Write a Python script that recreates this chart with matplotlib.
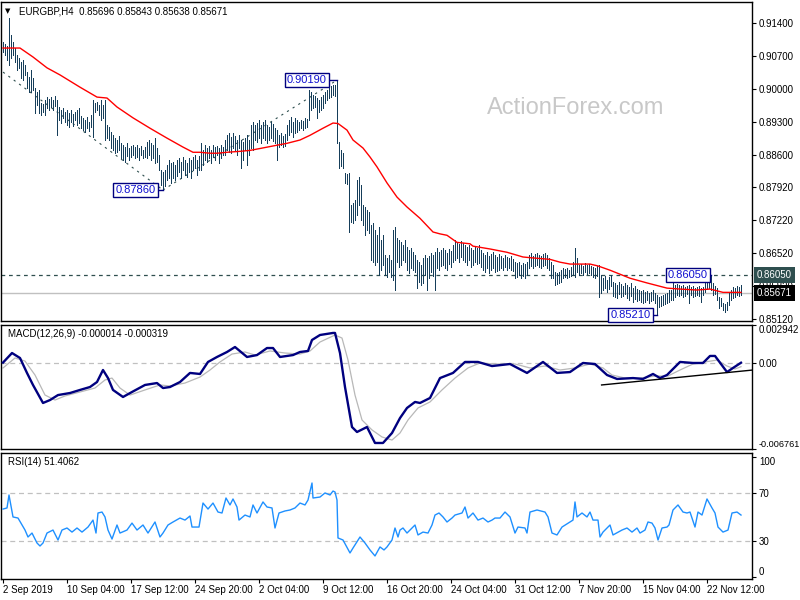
import numpy as np
import matplotlib
matplotlib.use("Agg")
import matplotlib.pyplot as plt
from matplotlib.transforms import blended_transform_factory

# ---------------- data ----------------
highs = [
    0.9100, 0.9096, 0.9091, 0.9151, 0.9115, 0.9100, 0.9087, 0.9072, 0.9066, 0.9057,
    0.9062, 0.9051, 0.9036, 0.9026, 0.9040, 0.9023, 0.9002, 0.8994, 0.8998, 0.8970,
    0.8968, 0.8977, 0.8983, 0.8979, 0.8983, 0.8977, 0.8985, 0.8977, 0.8962, 0.8956,
    0.8960, 0.8951, 0.8956, 0.8949, 0.8956, 0.8947, 0.8951, 0.8956, 0.8960, 0.8943,
    0.8939, 0.8934, 0.8941, 0.8930, 0.8945, 0.8977, 0.8970, 0.8973, 0.8966, 0.8977,
    0.8966, 0.8977, 0.8924, 0.8920, 0.8909, 0.8903, 0.8896, 0.8892, 0.8900, 0.8886,
    0.8881, 0.8877, 0.8886, 0.8875, 0.8879, 0.8881, 0.8877, 0.8881, 0.8875, 0.8879,
    0.8871, 0.8877, 0.8888, 0.8892, 0.8886, 0.8881, 0.8896, 0.8875, 0.8860, 0.8828,
    0.8824, 0.8828, 0.8839, 0.8849, 0.8843, 0.8845, 0.8839, 0.8849, 0.8854, 0.8845,
    0.8856, 0.8849, 0.8843, 0.8854, 0.8849, 0.8856, 0.8860, 0.8849, 0.8858, 0.8886,
    0.8871, 0.8881, 0.8875, 0.8879, 0.8871, 0.8881, 0.8877, 0.8879, 0.8875, 0.8881,
    0.8877, 0.8892, 0.8903, 0.8907, 0.8898, 0.8907, 0.8900, 0.8892, 0.8903, 0.8892,
    0.8888, 0.8896, 0.8903, 0.8892, 0.8924, 0.8930, 0.8924, 0.8928, 0.8934, 0.8924,
    0.8930, 0.8934, 0.8924, 0.8920, 0.8930, 0.8926, 0.8917, 0.8913, 0.8903, 0.8907,
    0.8900, 0.8905, 0.8924, 0.8934, 0.8941, 0.8930, 0.8939, 0.8934, 0.8930, 0.8934,
    0.8932, 0.8939, 0.8937, 0.8998, 0.8994, 0.8987, 0.8985, 0.8981, 0.8977, 0.8983,
    0.8987, 0.8994, 0.8998, 0.9002, 0.9007, 0.9009, 0.9009, 0.9019, 0.8888, 0.8871,
    0.8864, 0.8822, 0.8820, 0.8822, 0.8754, 0.8759, 0.8765, 0.8807, 0.8814, 0.8797,
    0.8754, 0.8750, 0.8744, 0.8739, 0.8712, 0.8716, 0.8701, 0.8691, 0.8707, 0.8680,
    0.8691, 0.8648, 0.8642, 0.8648, 0.8638, 0.8701, 0.8707, 0.8684, 0.8680, 0.8676,
    0.8669, 0.8680, 0.8665, 0.8659, 0.8663, 0.8655, 0.8648, 0.8638, 0.8633, 0.8627,
    0.8642, 0.8648, 0.8642, 0.8646, 0.8653, 0.8648, 0.8655, 0.8663, 0.8655, 0.8659,
    0.8663, 0.8659, 0.8653, 0.8661, 0.8657, 0.8669, 0.8680, 0.8676, 0.8672, 0.8678,
    0.8674, 0.8669, 0.8665, 0.8669, 0.8663, 0.8659, 0.8667, 0.8663, 0.8669, 0.8659,
    0.8653, 0.8648, 0.8655, 0.8646, 0.8650, 0.8655, 0.8648, 0.8644, 0.8650, 0.8646,
    0.8642, 0.8648, 0.8644, 0.8642, 0.8646, 0.8640, 0.8633, 0.8631, 0.8633, 0.8627,
    0.8631, 0.8629, 0.8633, 0.8648, 0.8653, 0.8646, 0.8650, 0.8653, 0.8648, 0.8646,
    0.8650, 0.8653, 0.8648, 0.8642, 0.8633, 0.8627, 0.8612, 0.8610, 0.8612, 0.8616,
    0.8621, 0.8618, 0.8621, 0.8616, 0.8623, 0.8633, 0.8663, 0.8642, 0.8627, 0.8629,
    0.8625, 0.8631, 0.8627, 0.8629, 0.8625, 0.8623, 0.8621, 0.8625, 0.8627, 0.8606,
    0.8599, 0.8604, 0.8595, 0.8602, 0.8606, 0.8591, 0.8589, 0.8585, 0.8591, 0.8587,
    0.8582, 0.8589, 0.8585, 0.8580, 0.8589, 0.8578, 0.8582, 0.8576, 0.8574, 0.8572,
    0.8574, 0.8570, 0.8572, 0.8568, 0.8570, 0.8574, 0.8568, 0.8563, 0.8559, 0.8561,
    0.8563, 0.8566, 0.8568, 0.8574, 0.8574, 0.8589, 0.8585, 0.8587, 0.8585, 0.8582,
    0.8585, 0.8580, 0.8582, 0.8585, 0.8580, 0.8582, 0.8578, 0.8580, 0.8582, 0.8578,
    0.8580, 0.8589, 0.8602, 0.8599, 0.8605, 0.8589, 0.8582, 0.8578, 0.8559, 0.8557,
    0.8547, 0.8544, 0.8549, 0.8570, 0.8574, 0.8580, 0.8578, 0.8582, 0.8580, 0.8584,
]
lows = [
    0.9079, 0.9072, 0.9062, 0.9051, 0.9066, 0.9072, 0.9057, 0.9040, 0.9045, 0.9023,
    0.9019, 0.9030, 0.9002, 0.8994, 0.8994, 0.8998, 0.8949, 0.8966, 0.8949, 0.8945,
    0.8951, 0.8945, 0.8960, 0.8956, 0.8962, 0.8956, 0.8964, 0.8903, 0.8934, 0.8928,
    0.8939, 0.8930, 0.8924, 0.8920, 0.8930, 0.8922, 0.8934, 0.8924, 0.8928, 0.8917,
    0.8913, 0.8909, 0.8917, 0.8911, 0.8920, 0.8898, 0.8951, 0.8956, 0.8945, 0.8934,
    0.8939, 0.8892, 0.8896, 0.8892, 0.8875, 0.8871, 0.8864, 0.8867, 0.8871, 0.8854,
    0.8849, 0.8845, 0.8858, 0.8849, 0.8856, 0.8860, 0.8854, 0.8856, 0.8849, 0.8860,
    0.8854, 0.8856, 0.8854, 0.8860, 0.8849, 0.8854, 0.8843, 0.8845, 0.8828, 0.8797,
    0.8786, 0.8795, 0.8807, 0.8811, 0.8801, 0.8811, 0.8807, 0.8816, 0.8824, 0.8811,
    0.8828, 0.8818, 0.8814, 0.8824, 0.8811, 0.8828, 0.8833, 0.8818, 0.8828, 0.8828,
    0.8839, 0.8849, 0.8845, 0.8854, 0.8843, 0.8856, 0.8849, 0.8860, 0.8843, 0.8854,
    0.8860, 0.8860, 0.8871, 0.8867, 0.8864, 0.8875, 0.8871, 0.8860, 0.8875, 0.8833,
    0.8849, 0.8871, 0.8839, 0.8860, 0.8875, 0.8871, 0.8892, 0.8888, 0.8896, 0.8886,
    0.8896, 0.8892, 0.8886, 0.8892, 0.8896, 0.8890, 0.8886, 0.8849, 0.8877, 0.8881,
    0.8877, 0.8879, 0.8892, 0.8903, 0.8909, 0.8898, 0.8907, 0.8909, 0.8913, 0.8917,
    0.8913, 0.8917, 0.8920, 0.8934, 0.8956, 0.8960, 0.8962, 0.8939, 0.8951, 0.8956,
    0.8960, 0.8970, 0.8977, 0.8981, 0.8983, 0.8987, 0.8985, 0.8886, 0.8833, 0.8837,
    0.8833, 0.8801, 0.8799, 0.8697, 0.8718, 0.8716, 0.8722, 0.8733, 0.8754, 0.8722,
    0.8712, 0.8691, 0.8701, 0.8695, 0.8638, 0.8633, 0.8627, 0.8633, 0.8606, 0.8616,
    0.8627, 0.8606, 0.8602, 0.8612, 0.8602, 0.8595, 0.8574, 0.8633, 0.8623, 0.8627,
    0.8638, 0.8633, 0.8616, 0.8610, 0.8621, 0.8616, 0.8612, 0.8578, 0.8591, 0.8585,
    0.8589, 0.8606, 0.8574, 0.8599, 0.8612, 0.8604, 0.8574, 0.8621, 0.8616, 0.8625,
    0.8627, 0.8621, 0.8616, 0.8629, 0.8623, 0.8633, 0.8638, 0.8642, 0.8633, 0.8644,
    0.8638, 0.8633, 0.8627, 0.8638, 0.8623, 0.8627, 0.8633, 0.8629, 0.8631, 0.8623,
    0.8616, 0.8612, 0.8621, 0.8610, 0.8616, 0.8621, 0.8612, 0.8614, 0.8616, 0.8621,
    0.8616, 0.8623, 0.8616, 0.8621, 0.8616, 0.8614, 0.8599, 0.8602, 0.8606, 0.8599,
    0.8604, 0.8599, 0.8606, 0.8621, 0.8625, 0.8621, 0.8625, 0.8627, 0.8623, 0.8621,
    0.8625, 0.8627, 0.8621, 0.8616, 0.8599, 0.8599, 0.8585, 0.8587, 0.8589, 0.8591,
    0.8599, 0.8602, 0.8599, 0.8602, 0.8604, 0.8606, 0.8602, 0.8612, 0.8606, 0.8610,
    0.8606, 0.8612, 0.8608, 0.8610, 0.8606, 0.8602, 0.8599, 0.8604, 0.8559, 0.8568,
    0.8574, 0.8578, 0.8570, 0.8576, 0.8582, 0.8561, 0.8559, 0.8557, 0.8566, 0.8559,
    0.8561, 0.8566, 0.8557, 0.8553, 0.8561, 0.8549, 0.8555, 0.8551, 0.8553, 0.8549,
    0.8547, 0.8549, 0.8553, 0.8547, 0.8551, 0.8553, 0.8547, 0.8521, 0.8538, 0.8540,
    0.8542, 0.8544, 0.8547, 0.8549, 0.8553, 0.8553, 0.8559, 0.8563, 0.8561, 0.8563,
    0.8559, 0.8561, 0.8566, 0.8547, 0.8563, 0.8559, 0.8561, 0.8563, 0.8561, 0.8549,
    0.8563, 0.8570, 0.8576, 0.8578, 0.8574, 0.8563, 0.8566, 0.8553, 0.8536, 0.8540,
    0.8532, 0.8527, 0.8532, 0.8542, 0.8553, 0.8557, 0.8559, 0.8563, 0.8561, 0.8564,
]

ma_idx = [0, 8.5, 15, 22, 28.5, 38.5, 47, 52, 57, 65, 73.5, 82, 90, 95, 98.5, 103.5,
          107, 112, 118.5, 123.5, 128.5, 137, 142, 148.5, 153.5, 160, 165, 167.5, 172,
          175, 180, 183.5, 187, 192, 197, 202, 208.5, 215, 218.5, 222, 227, 233.5, 235,
          243.5, 252, 260, 265, 273.5, 278.5, 283.5, 293.5, 297.5, 303.5, 313.5, 322,
          332, 338.5, 347, 353.5, 360, 369]
ma_val = [0.9087, 0.9087, 0.9068, 0.9045, 0.9030, 0.9004, 0.8983, 0.8981, 0.8962, 0.8939,
          0.8917, 0.8896, 0.8877, 0.8866, 0.8866, 0.8864, 0.8864, 0.8866, 0.8868, 0.8870,
          0.8874, 0.8881, 0.8885, 0.8892, 0.8902, 0.8917, 0.8928, 0.8927, 0.8913, 0.8892,
          0.8875, 0.8856, 0.8835, 0.8801, 0.8771, 0.8750, 0.8726, 0.8697, 0.8693, 0.8690,
          0.8675, 0.8672, 0.8667, 0.8661, 0.8654, 0.8644, 0.8642, 0.8639, 0.8633, 0.8629,
          0.8629, 0.8625, 0.8616, 0.8599, 0.8589, 0.8578, 0.8576, 0.8574, 0.8576, 0.8569,
          0.8569]

macd_idx = [0, 4.5, 8.5, 12, 15, 20, 23.5, 27.5, 33.5, 38.5, 43.5, 47, 50, 52.5, 55, 60,
            64.5, 71, 77, 80, 83.5, 88.5, 93.5, 98.5, 102.5, 107, 112, 116, 122, 127, 132,
            135, 138.5, 145, 148.5, 152.5, 154.5, 158.5, 165, 166, 168.5, 171, 174.5, 177,
            182, 186, 190, 194.5, 198.5, 202, 206, 208.5, 213.5, 218.5, 225, 231, 237.5,
            244.5, 253.5, 262, 270, 277, 283.5, 290, 296, 302, 307, 315, 320, 325, 328.5,
            332, 338.5, 345, 350, 353.5, 356, 362, 365, 369]
macd_val = [0.00, 0.75, 0.36, -0.81, -1.75, -3.16, -2.93, -2.54, -2.38, -2.14, -1.91,
            -1.52, -0.58, -1.21, -2.14, -2.69, -2.30, -1.75, -1.60, -1.99, -1.91, -1.52,
            -0.81, -0.89, 0.05, 0.44, 0.83, 1.22, 0.44, 0.59, 1.14, 1.14, 0.44, 0.59,
            0.83, 0.91, 1.77, 2.16, 2.32, 2.32, 0.75, -1.91, -5.04, -5.43, -5.04, -6.29,
            -6.29, -5.51, -4.34, -3.55, -3.08, -3.16, -2.77, -1.21, -0.81, 0.05, 0.05,
            -0.27, -0.11, -0.81, 0.05, -0.81, -0.74, -0.03, -0.11, -0.97, -1.28, -1.21,
            -1.28, -0.89, -1.21, -0.97, 0.05, -0.03, -0.03, 0.52, 0.52, -0.74, -0.42,
            -0.01]
sig_idx = [0, 6, 11, 16, 21, 26, 31, 38.5, 46, 51, 54.5, 58.5, 63.5, 71, 78.5, 83.5,
           91, 98.5, 103.5, 108.5, 114.5, 121, 126, 133.5, 141, 148.5, 153.5, 158.5, 166,
           169.5, 172.5, 176, 179.5, 184.5, 189.5, 194.5, 198.5, 202.5, 207.5, 213.5,
           219.5, 226, 232.5, 238.5, 246, 256, 263.5, 271, 278.5, 286, 293.5, 300, 304.5,
           311, 318.5, 326, 332.5, 338.5, 345, 351, 357, 362, 366, 369]
sig_val = [-0.42, 0.36, 0.12, -0.97, -2.54, -2.93, -2.61, -2.30, -1.99, -1.36, -1.21,
           -1.99, -2.54, -2.14, -1.75, -1.83, -1.60, -1.13, -0.58, 0.05, 0.67, 0.83,
           0.59, 0.91, 0.75, 0.67, 0.91, 1.61, 2.16, 1.92, 0.20, -2.54, -4.49, -5.27,
           -5.82, -6.06, -5.51, -4.49, -3.55, -3.08, -2.14, -1.21, -0.42, -0.03, -0.11,
           -0.11, -0.42, -0.27, -0.58, -0.42, -0.11, -0.42, -0.97, -1.21, -1.21, -1.05,
           -1.05, -0.58, -0.11, 0.05, 0.20, -0.27, -0.50, -0.32]
macd_trend_idx = [299.3, 375]
macd_trend_val = [-1.75, -0.58]

rsi_idx = [0, 2, 3, 5, 7.5, 11, 12.5, 14.5, 17, 18.5, 20, 22, 25, 27.5, 29.5, 32, 34.5,
           37, 39.5, 42.5, 45, 46.5, 47.5, 49.5, 51, 52.5, 54.5, 57, 58.5, 62, 64.5, 67,
           70, 72.5, 76, 78.5, 80, 82.5, 85, 88.5, 91, 93.5, 94.5, 98, 100, 102.5, 105,
           107.5, 109.5, 111.5, 113.5, 115, 117, 118, 121, 123.5, 125, 127, 130, 132,
           134.5, 136, 138, 141, 143.5, 146, 148.5, 151, 152.5, 154.5, 155, 158.5, 161,
           163.5, 165, 166, 167, 167.5, 170, 173.5, 175, 178.5, 181, 183.5, 186, 188.5,
           190.5, 192, 194.5, 196, 197.5, 198.5, 200, 202, 204.5, 206, 207.5, 210, 212.5,
           214.5, 216, 218, 220, 222, 224.5, 226, 229.5, 231, 232.5, 235, 237.5, 240,
           242.5, 244.5, 246, 248.5, 251, 253.5, 256, 257.5, 261, 262, 263.5, 267, 271,
           272.5, 274.5, 277, 279.5, 283.5, 285, 286, 287, 289.5, 292, 293.5, 295, 297.5,
           298.5, 300, 303.5, 305, 309.5, 312, 314.5, 317, 318.5, 321, 322.5, 324.5, 326,
           327.5, 329.5, 332, 333, 335, 337.5, 340, 342, 343.5, 346, 347.5, 349.5, 352,
           354.5, 356, 357.5, 360, 362.5, 364.5, 367, 369]
rsi_val = [56.4, 57.3, 68.1, 49.8, 48.9, 38.9, 33.1, 36.4, 28.1, 25.6, 28.1, 36.4, 38.9,
           30.6, 38.9, 40.6, 37.2, 40.6, 37.2, 41.4, 47.2, 36.4, 53.1, 53.9, 49.8, 38.9,
           31.4, 43.1, 36.4, 38.9, 44.7, 38.9, 43.1, 36.4, 45.6, 33.1, 36.4, 43.1, 45.6,
           48.9, 47.2, 50.6, 41.4, 41.4, 61.4, 56.4, 61.4, 53.9, 53.1, 65.6, 59.8, 64.8,
           58.1, 47.2, 51.4, 49.8, 59.8, 53.1, 62.3, 58.1, 57.3, 40.6, 53.1, 54.8, 55.6,
           57.3, 61.4, 59.8, 63.9, 78.1, 65.6, 66.4, 69.8, 68.1, 71.4, 70.6, 63.9, 32.3,
           30.6, 19.8, 23.9, 33.1, 28.1, 22.3, 17.3, 24.8, 22.3, 24.8, 30.6, 40.6, 33.1,
           38.9, 40.6, 36.4, 40.6, 43.1, 34.8, 37.2, 36.4, 43.1, 51.4, 53.1, 49.8, 45.6,
           48.9, 51.4, 53.1, 58.1, 48.9, 53.1, 47.2, 48.9, 45.6, 47.2, 48.9, 48.9, 53.9,
           49.8, 36.4, 41.4, 40.6, 36.4, 53.9, 55.6, 53.9, 49.8, 36.4, 34.8, 41.4, 45.6,
           47.2, 62.3, 49.8, 53.1, 49.8, 53.9, 47.2, 47.2, 33.1, 37.2, 43.1, 34.8, 38.9,
           40.6, 37.2, 40.6, 36.4, 38.9, 45.6, 44.7, 40.6, 30.6, 40.6, 41.4, 43.1, 55.6,
           59.8, 53.9, 53.1, 53.9, 41.4, 53.9, 51.4, 64.8, 57.3, 53.1, 41.4, 37.2, 38.9,
           53.1, 53.9, 51.4]

x_tick_idx = [0, 32, 64, 96, 128, 160, 192, 224, 256, 288, 320, 352]
x_tick_labels = ["2 Sep 2019", "10 Sep 04:00", "17 Sep 12:00", "24 Sep 20:00",
                 "2 Oct 04:00", "9 Oct 12:00", "16 Oct 20:00", "24 Oct 04:00",
                 "31 Oct 12:00", "7 Nov 20:00", "15 Nov 04:00", "22 Nov 12:00"]
price_ticks = [0.91400, 0.90700, 0.90000, 0.89300, 0.88600, 0.87920, 0.87220,
               0.86520, 0.85820, 0.85120]
macd_ticks = [0.002942, 0.0, -0.006761]
rsi_ticks = [100, 70, 30, 0]

swing_low_1, swing_high_1 = 0.87860, 0.90190
swing_high_2, swing_low_2 = 0.86050, 0.85210
last_close = 0.85671
trend1_idx, trend1_val = [0, 80], [0.9036, 0.8786]
trend2_idx, trend2_val = [80, 167], [0.8786, 0.9019]

# ---------------- styles ----------------
BAR = "#163e5a"
NAVY = "#00007f"
FONT = ["Liberation Sans", "DejaVu Sans"]
FS = 7
plt.rcParams["font.family"] = FONT

W, H = 800, 600
fig = plt.figure(figsize=(8, 6), dpi=100)
fig.patch.set_facecolor("white")

def ax_at(top, bottom):
    return fig.add_axes([1 / W, 1 - bottom / H, 751 / W, (bottom - top) / H])

axp = ax_at(2, 321)
axm = ax_at(325, 449)
axr = ax_at(453, 579)

xlim = (-1, 374.5)
for a in (axp, axm, axr):
    a.set_xlim(*xlim)
    a.yaxis.tick_right()
    a.tick_params(axis="y", direction="out", length=3, width=0.8, pad=2,
                  labelsize=FS, colors="black")
    for s in a.spines.values():
        s.set_linewidth(1.0)
        s.set_color("black")
    a.set_facecolor("white")
for a in (axp, axm):
    a.set_xticks([])

# ---------------- price panel ----------------
idx = np.arange(len(highs))
axp.set_ylim(0.85083, 0.91846)
axp.vlines(idx, lows, highs, color=BAR, lw=0.72, antialiased=False, zorder=3)
axp.plot(ma_idx, ma_val, color="#ff0000", lw=1.0, zorder=4)
axp.axhline(swing_high_2, color="#2f4f4f", lw=0.9, ls=(0, (3, 3)), zorder=2)
axp.axhline(last_close, color="#c0c0c0", lw=1.0, zorder=1)
axp.plot(trend1_idx, trend1_val, color="#2f4f4f", lw=0.8, ls=(0, (2, 4)), zorder=2)
axp.plot(trend2_idx, trend2_val, color="#2f4f4f", lw=0.8, ls=(0, (2, 4)), zorder=2)
axp.set_yticks(price_ticks)
axp.set_yticklabels([f"{v:.5f}" for v in price_ticks])

box = dict(boxstyle="square,pad=0.18", fc="white", ec=NAVY, lw=1.0)
def swing_label(ax, text_idx, bar_idx, val):
    ax.plot([text_idx, bar_idx], [val, val], color=NAVY, lw=1.0, zorder=5)
    ax.text(text_idx, val, f"{val:.5f}", ha="right", va="center", fontsize=8,
            color="#1010d0", bbox=box, zorder=6)

swing_label(axp, 76.3, 80, swing_low_1)
swing_label(axp, 161.8, 167, swing_high_1)
swing_label(axp, 352.3, 354, swing_high_2)
swing_label(axp, 323.8, 327, swing_low_2)

tr = blended_transform_factory(axp.transAxes, axp.transData)
axp.text(1.0 + 5 / 751, swing_high_2, f"{swing_high_2:.5f}", transform=tr, ha="left",
         va="center", fontsize=FS, color="white", clip_on=False, zorder=10,
         bbox=dict(boxstyle="square,pad=0.3", fc="#2f4f4f", ec="none"))
axp.text(1.0 + 5 / 751, last_close, f"{last_close:.5f}", transform=tr, ha="left",
         va="center", fontsize=FS, color="white", clip_on=False, zorder=10,
         bbox=dict(boxstyle="square,pad=0.3", fc="black", ec="none"))

axp.text(4 / 751, 1 - 9 / 319, "\u25BC", transform=axp.transAxes, fontsize=5,
         va="center", ha="left", color="black", family="DejaVu Sans")
axp.text(18 / 751, 1 - 9 / 319, "EURGBP,H4  0.85696 0.85843 0.85638 0.85671",
         transform=axp.transAxes, fontsize=FS, va="center", ha="left", color="black")
axp.text(575 / 751, 1 - 106 / 319, "ActionForex.com", transform=axp.transAxes,
         fontsize=17, color="#c8c8c8", ha="center", va="center", zorder=0)

# ---------------- MACD panel ----------------
scale = 1e-3
axm.set_ylim(-0.006761, 0.002942)
axm.axhline(0, color="#c0c0c0", lw=0.9, ls=(0, (4, 3)), zorder=1)
axm.plot(sig_idx, np.array(sig_val) * scale, color="#b8b8b8", lw=0.9, zorder=2)
axm.plot(macd_idx, np.array(macd_val) * scale, color=NAVY, lw=1.7, zorder=3,
         solid_joinstyle="round")
axm.plot(macd_trend_idx, np.array(macd_trend_val) * scale, color="black", lw=1.0,
         zorder=4)
axm.set_yticks(macd_ticks)
axm.set_yticklabels(["0.002942", "0.00", "-0.006761"])
axm.tick_params(axis="y", pad=1.5)
lbls = axm.get_yticklabels()
lbls[0].set_va("top")
lbls[2].set_va("bottom")
lbls[2].set_fontsize(6.6)
axm.text(7 / 751, 1 - 9 / 124, "MACD(12,26,9) -0.000014 -0.000319",
         transform=axm.transAxes, fontsize=FS, va="center", ha="left")

# ---------------- RSI panel ----------------
axr.set_ylim(-1.9, 103.1)
axr.axhline(70, color="#c0c0c0", lw=0.9, ls=(0, (4, 3)), zorder=1)
axr.axhline(30, color="#c0c0c0", lw=0.9, ls=(0, (4, 3)), zorder=1)
axr.plot(rsi_idx, rsi_val, color="#1e90ff", lw=1.0, zorder=3)
axr.set_yticks(rsi_ticks)
axr.set_yticklabels([str(v) for v in rsi_ticks])
rl = axr.get_yticklabels()
rl[0].set_va("top")
rl[3].set_va("bottom")
axr.text(7 / 751, 1 - 9 / 126, "RSI(14) 51.4062", transform=axr.transAxes,
         fontsize=FS, va="center", ha="left")

axr.set_xticks(x_tick_idx)
axr.set_xticklabels(x_tick_labels)
axr.tick_params(axis="x", direction="out", length=3, width=0.8, pad=1,
                labelsize=FS, colors="black")
for t in axr.get_xticklabels():
    t.set_ha("left")

fig.savefig("out.png", dpi=100, facecolor="white")
